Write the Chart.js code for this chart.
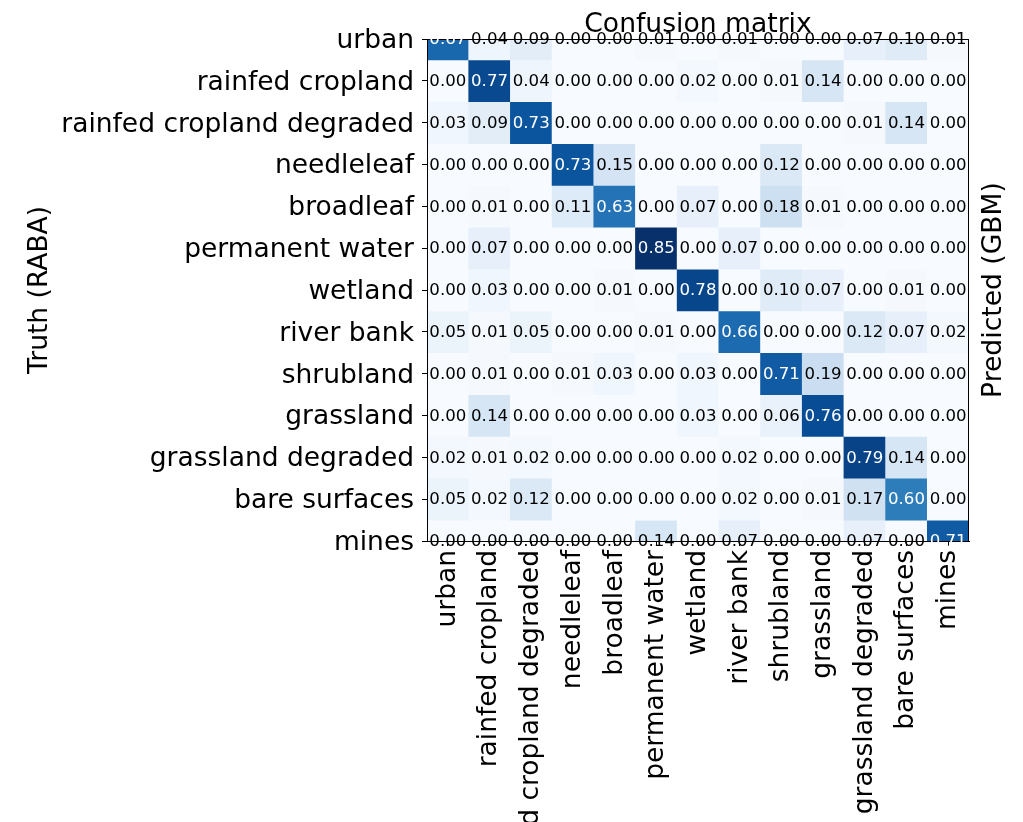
<!DOCTYPE html>
<html>
<head>
<meta charset="utf-8">
<script src="https://cdn.jsdelivr.net/npm/chart.js@4/dist/chart.umd.min.js"></script>
<style>
  html, body { margin: 0; padding: 0; background: #ffffff; }
  #wrap { width: 1023px; height: 822px; position: relative; }
</style>
</head>
<body>
<div id="wrap"><canvas id="cm"></canvas></div>
<script>
// Land cover classes (same order for truth rows and predicted columns)
const classes = [
  'urban', 'rainfed cropland', 'rainfed cropland degraded', 'needleleaf',
  'broadleaf', 'permanent water', 'wetland', 'river bank', 'shrubland',
  'grassland', 'grassland degraded', 'bare surfaces', 'mines'
];

// Normalised confusion matrix, one row per truth class
const urban             = [0.67, 0.04, 0.09, 0.00, 0.00, 0.01, 0.00, 0.01, 0.00, 0.00, 0.07, 0.10, 0.01];
const rainfedCropland   = [0.00, 0.77, 0.04, 0.00, 0.00, 0.00, 0.02, 0.00, 0.01, 0.14, 0.00, 0.00, 0.00];
const rainfedDegraded   = [0.03, 0.09, 0.73, 0.00, 0.00, 0.00, 0.00, 0.00, 0.00, 0.00, 0.01, 0.14, 0.00];
const needleleaf        = [0.00, 0.00, 0.00, 0.73, 0.15, 0.00, 0.00, 0.00, 0.12, 0.00, 0.00, 0.00, 0.00];
const broadleaf         = [0.00, 0.01, 0.00, 0.11, 0.63, 0.00, 0.07, 0.00, 0.18, 0.01, 0.00, 0.00, 0.00];
const permanentWater    = [0.00, 0.07, 0.00, 0.00, 0.00, 0.85, 0.00, 0.07, 0.00, 0.00, 0.00, 0.00, 0.00];
const wetland           = [0.00, 0.03, 0.00, 0.00, 0.01, 0.00, 0.78, 0.00, 0.10, 0.07, 0.00, 0.01, 0.00];
const riverBank         = [0.05, 0.01, 0.05, 0.00, 0.00, 0.01, 0.00, 0.66, 0.00, 0.00, 0.12, 0.07, 0.02];
const shrubland         = [0.00, 0.01, 0.00, 0.01, 0.03, 0.00, 0.03, 0.00, 0.71, 0.19, 0.00, 0.00, 0.00];
const grassland         = [0.00, 0.14, 0.00, 0.00, 0.00, 0.00, 0.03, 0.00, 0.06, 0.76, 0.00, 0.00, 0.00];
const grasslandDegraded = [0.02, 0.01, 0.02, 0.00, 0.00, 0.00, 0.00, 0.02, 0.00, 0.00, 0.79, 0.14, 0.00];
const bareSurfaces      = [0.05, 0.02, 0.12, 0.00, 0.00, 0.00, 0.00, 0.02, 0.00, 0.01, 0.17, 0.60, 0.00];
const mines             = [0.00, 0.00, 0.00, 0.00, 0.00, 0.14, 0.00, 0.07, 0.00, 0.00, 0.07, 0.00, 0.71];

const matrix = [urban, rainfedCropland, rainfedDegraded, needleleaf, broadleaf,
  permanentWater, wetland, riverBank, shrubland, grassland, grasslandDegraded,
  bareSurfaces, mines];

const titleText = 'Confusion matrix';
const truthLabel = 'Truth (RABA)';
const predictedLabel = 'Predicted (GBM)';

const FONT = '"DejaVu Sans", "Liberation Sans", sans-serif';

// Sequential "Blues" colour ramp
const bluesStops = [
  [247, 251, 255], [222, 235, 247], [198, 219, 239], [158, 202, 225],
  [107, 174, 214], [66, 146, 198], [33, 113, 181], [8, 81, 156], [8, 48, 107]
];
function blues(t) {
  t = Math.max(0, Math.min(1, t));
  const pos = t * (bluesStops.length - 1);
  const i = Math.min(Math.floor(pos), bluesStops.length - 2);
  const f = pos - i;
  const a = bluesStops[i], b = bluesStops[i + 1];
  const c = a.map((v, k) => Math.round(v + (b[k] - v) * f));
  return `rgb(${c[0]},${c[1]},${c[2]})`;
}

const allValues = matrix.flat();
const vmin = Math.min(...allValues);
const vmax = Math.max(...allValues);
const norm = v => (v - vmin) / (vmax - vmin);

// One floating-bar dataset per truth row: each bar spans one cell vertically
const datasets = matrix.map((row, r) => ({
  label: classes[r],
  data: row.map(() => [r - 0.5, r + 0.5]),
  values: row,
  backgroundColor: row.map(v => blues(norm(v))),
  borderWidth: 0,
  barPercentage: 1,
  categoryPercentage: 1,
  grouped: false
}));

// Value annotations, frame and extra labels
const decorations = {
  id: 'decorations',
  afterDatasetsDraw(chart) {
    const { ctx, chartArea, scales } = chart;
    ctx.save();
    // plot frame
    ctx.strokeStyle = '#000000';
    ctx.lineWidth = 1;
    ctx.strokeRect(chartArea.left + 0.5, chartArea.top + 0.5,
      chartArea.right - chartArea.left - 1, chartArea.bottom - chartArea.top);

    // cell values
    ctx.font = `16.6px ${FONT}`;
    ctx.textAlign = 'center';
    ctx.textBaseline = 'middle';
    const thresh = vmax / 2;
    chart.data.datasets.forEach((ds, r) => {
      const meta = chart.getDatasetMeta(r);
      const yc = scales.y.getPixelForValue(r);
      meta.data.forEach((el, c) => {
        const v = ds.values[c];
        ctx.fillStyle = v > thresh ? '#ffffff' : '#000000';
        ctx.fillText(v.toFixed(2), el.x, yc + 1);
      });
    });

    // title over the plot
    ctx.fillStyle = '#000000';
    ctx.font = `26.6px ${FONT}`;
    ctx.textBaseline = 'alphabetic';
    ctx.fillText(titleText, (chartArea.left + chartArea.right) / 2, 32);

    // right-hand axis label, reading bottom to top
    ctx.translate(994, (chartArea.top + chartArea.bottom) / 2);
    ctx.rotate(-Math.PI / 2);
    ctx.textBaseline = 'middle';
    ctx.fillText(predictedLabel, 0, 0);
    ctx.restore();
  }
};

new Chart(document.getElementById('cm'), {
  type: 'bar',
  data: { labels: classes, datasets },
  options: {
    responsive: true,
    maintainAspectRatio: false,
    animation: false,
    layout: { padding: { top: 39, right: 54, left: 0, bottom: 0 } },
    plugins: {
      legend: { display: false },
      tooltip: { enabled: false },
      title: { display: false }
    },
    scales: {
      x: {
        type: 'category',
        offset: true,
        grid: { offset: false, drawOnChartArea: false, drawTicks: true, tickLength: 5, color: '#000000', lineWidth: 1 },
        border: { display: true, color: '#000000', width: 1 },
        ticks: {
          autoSkip: false, minRotation: 90, maxRotation: 90, padding: 4,
          color: '#000000', font: { family: FONT, size: 26.5 }
        },
        afterFit(scale) { scale.height = 281; }
      },
      y: {
        type: 'linear',
        min: 0, max: 12, reverse: true,
        grid: { drawOnChartArea: false, drawTicks: true, tickLength: 5, color: '#000000', lineWidth: 1 },
        border: { display: true, color: '#000000', width: 1 },
        ticks: {
          stepSize: 1, autoSkip: false, padding: 8, labelOffset: 2,
          color: '#000000', font: { family: FONT, size: 26.5 },
          callback: v => classes[v]
        },
        title: {
          display: true, text: truthLabel, color: '#000000',
          font: { family: FONT, size: 26.5 }, padding: { top: 24, bottom: 0 }
        },
        afterFit(scale) { scale.width = 427; }
      }
    }
  },
  plugins: [decorations]
});
</script>
</body>
</html>
